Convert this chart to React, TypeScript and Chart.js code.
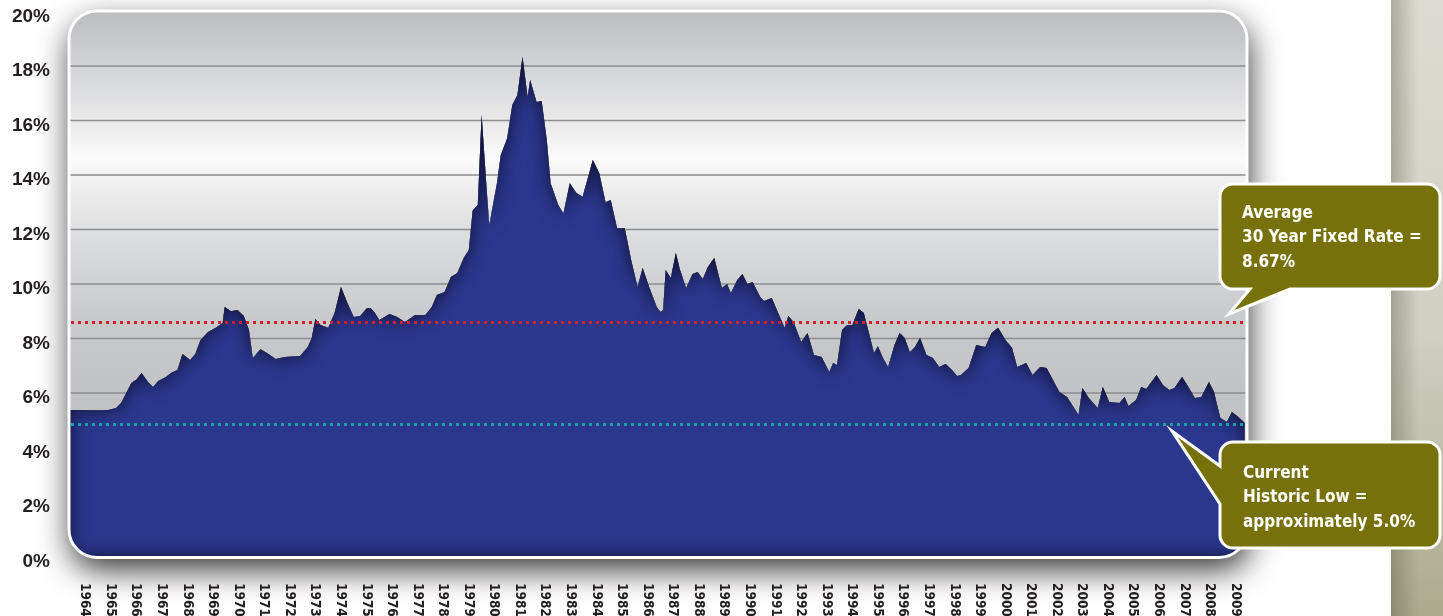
import { useEffect, useRef } from 'react';
import { Chart, registerables } from 'chart.js';

Chart.register(...registerables);

// ---------- data ----------
const yearPositions = [
  1964.0, 1964.5, 1965.0, 1965.5, 1965.8, 1966.0, 1966.2, 1966.4, 1966.6, 1966.8,
  1967.05, 1967.25, 1967.45, 1967.75, 1967.95, 1968.2, 1968.4, 1968.7, 1968.9, 1969.1,
  1969.4, 1969.7, 1969.97, 1970.05, 1970.3, 1970.55, 1970.8, 1971.0, 1971.15, 1971.45,
  1971.7, 1972.05, 1972.4, 1973.0, 1973.3, 1973.45, 1973.6, 1973.8, 1974.1, 1974.35,
  1974.6, 1974.85, 1975.1, 1975.35, 1975.6, 1975.75, 1975.9, 1976.1, 1976.5, 1976.8,
  1977.1, 1977.5, 1977.9, 1978.15, 1978.35, 1978.65, 1978.9, 1979.15, 1979.4, 1979.6,
  1979.75, 1979.95, 1980.1, 1980.3, 1980.4, 1980.7, 1980.85, 1981.1, 1981.3, 1981.5,
  1981.7, 1981.9, 1982.0, 1982.25, 1982.45, 1982.65, 1982.8, 1983.1, 1983.3, 1983.55,
  1983.8, 1984.05, 1984.45, 1984.7, 1984.95, 1985.15, 1985.4, 1985.7, 1985.95, 1986.2,
  1986.4, 1986.65, 1986.95, 1987.1, 1987.2, 1987.3, 1987.5, 1987.7, 1987.85, 1988.1,
  1988.35, 1988.55, 1988.75, 1988.95, 1989.2, 1989.5, 1989.7, 1989.85, 1990.1, 1990.3,
  1990.5, 1990.7, 1991.0, 1991.15, 1991.45, 1991.65, 1991.95, 1992.1, 1992.3, 1992.6,
  1992.85, 1993.1, 1993.4, 1993.7, 1993.85, 1994.0, 1994.2, 1994.4, 1994.6, 1994.85,
  1995.05, 1995.25, 1995.45, 1995.6, 1995.8, 1996.0, 1996.25, 1996.45, 1996.65, 1996.85,
  1997.05, 1997.25, 1997.5, 1997.75, 1998.0, 1998.25, 1998.5, 1998.7, 1998.85, 1999.15,
  1999.45, 1999.8, 2000.05, 2000.3, 2000.6, 2000.85, 2001.05, 2001.4, 2001.65, 2001.95,
  2002.2, 2002.7, 2003.0, 2003.45, 2003.6, 2003.85, 2004.2, 2004.4, 2004.65, 2005.05,
  2005.25, 2005.4, 2005.7, 2005.9, 2006.1, 2006.5, 2006.75, 2007.0, 2007.2, 2007.5,
  2007.7, 2008.0, 2008.25, 2008.55, 2008.75, 2008.85, 2009.0, 2009.25, 2009.45, 2009.7,
  2009.95,
];

const rates = [
  5.38, 5.38, 5.37, 5.38, 5.45, 5.63, 6.0, 6.37, 6.5, 6.73,
  6.4, 6.22, 6.44, 6.59, 6.73, 6.84, 7.43, 7.21, 7.43, 7.94,
  8.24, 8.39, 8.57, 9.16, 9.0, 9.05, 8.83, 8.31, 7.28, 7.61,
  7.47, 7.25, 7.32, 7.36, 7.69, 8.0, 8.72, 8.5, 8.39, 8.94,
  9.89, 9.3, 8.79, 8.83, 9.1, 9.12, 8.97, 8.68, 8.9, 8.79,
  8.61, 8.86, 8.86, 9.16, 9.6, 9.71, 10.26, 10.4, 10.95, 11.25,
  12.7, 12.9, 16.2, 13.45, 12.17, 13.7, 14.73, 15.35, 16.57, 16.94,
  18.33, 16.86, 17.49, 16.68, 16.72, 15.28, 13.7, 12.9, 12.6, 13.7,
  13.35, 13.2, 14.55, 14.07, 13.0, 13.08, 12.05, 12.05, 10.88, 9.9,
  10.59, 9.9, 9.16, 8.97, 9.05, 10.51, 10.22, 11.14, 10.55, 9.85,
  10.37, 10.44, 10.18, 10.62, 10.95, 9.85, 10.0, 9.67, 10.15, 10.37,
  10.0, 10.07, 9.52, 9.38, 9.49, 9.05, 8.39, 8.83, 8.61, 7.87,
  8.2, 7.39, 7.32, 6.77, 7.1, 7.03, 8.31, 8.5, 8.5, 9.08,
  8.94, 8.2, 7.47, 7.72, 7.28, 6.95, 7.76, 8.2, 8.02, 7.5,
  7.69, 8.02, 7.39, 7.28, 6.95, 7.06, 6.84, 6.62, 6.66, 6.92,
  7.76, 7.69, 8.2, 8.39, 7.94, 7.65, 6.95, 7.1, 6.66, 6.95,
  6.92, 6.04, 5.85, 5.19, 6.18, 5.82, 5.45, 6.22, 5.67, 5.63,
  5.85, 5.52, 5.74, 6.22, 6.15, 6.66, 6.29, 6.11, 6.18, 6.59,
  6.29, 5.82, 5.85, 6.4, 6.04, 5.63, 5.08, 4.94, 5.3, 5.12,
  4.9,
];

const yearLabels = [
  '1964', '1965', '1966', '1967', '1968', '1969', '1970', '1971', '1972', '1973',
  '1974', '1975', '1976', '1977', '1978', '1979', '1980', '1981', '1982', '1983',
  '1984', '1985', '1986', '1987', '1988', '1989', '1990', '1991', '1992', '1993',
  '1994', '1995', '1996', '1997', '1998', '1999', '2000', '2001', '2002', '2003',
  '2004', '2005', '2006', '2007', '2008', '2009',
];

const yTicks = [0, 2, 4, 6, 8, 10, 12, 14, 16, 18, 20];
const yTickLabels = ['0%', '2%', '4%', '6%', '8%', '10%', '12%', '14%', '16%', '18%', '20%'];

const averageLineLevel = 8.6;
const lowLineLevel = 4.88;

const averageCallout = ['Average', '30 Year Fixed Rate =', '8.67%'];
const lowCallout = ['Current', 'Historic Low =', 'approximately 5.0%'];

// ---------- layout ----------
const W = 1443;
const H = 616;
const PLOT = { left: 70, right: 1246, top: 11.5, bottom: 556.5 };
const FRAME = { x: 69, y: 11, w: 1178, h: 546.5, r: 28 };

function roundRectPath(ctx: CanvasRenderingContext2D, x: number, y: number, w: number, h: number, r: number) {
  ctx.beginPath();
  ctx.moveTo(x + r, y);
  ctx.arcTo(x + w, y, x + w, y + h, r);
  ctx.arcTo(x + w, y + h, x, y + h, r);
  ctx.arcTo(x, y + h, x, y, r);
  ctx.arcTo(x, y, x + w, y, r);
  ctx.closePath();
}

function calloutBottomTail(ctx: CanvasRenderingContext2D) {
  const x = 1220, y = 184, w = 220, h = 105, r = 13;
  const b = y + h;
  ctx.beginPath();
  ctx.moveTo(x + r, y);
  ctx.arcTo(x + w, y, x + w, b, r);
  ctx.arcTo(x + w, b, x, b, r);
  ctx.lineTo(1290, b);
  ctx.lineTo(1229, 314);
  ctx.lineTo(1250, b);
  ctx.arcTo(x, b, x, y, r);
  ctx.arcTo(x, y, x + w, y, r);
  ctx.closePath();
}

function calloutLeftTail(ctx: CanvasRenderingContext2D) {
  const x = 1220, y = 442, w = 220, h = 106, r = 13;
  const b = y + h;
  ctx.beginPath();
  ctx.moveTo(x + r, y);
  ctx.arcTo(x + w, y, x + w, b, r);
  ctx.arcTo(x + w, b, x, b, r);
  ctx.arcTo(x, b, x, y, r);
  ctx.lineTo(x, 504);
  ctx.lineTo(1172, 431);
  ctx.lineTo(x, 466);
  ctx.arcTo(x, y, x + w, y, r);
  ctx.closePath();
}

const CALLOUT_FONT = "bold 17px 'Liberation Sans Narrow', 'DejaVu Sans Condensed', 'Arial Narrow', sans-serif";

const decorPlugin = {
  id: 'decor',
  beforeDraw(chart: any) {
    const ctx: CanvasRenderingContext2D = chart.ctx;
    const yScale = chart.scales.y;
    ctx.save();
    ctx.fillStyle = '#ffffff';
    ctx.fillRect(0, 0, W, H);

    // right side strip
    const sg = ctx.createLinearGradient(0, 0, 0, H);
    sg.addColorStop(0, '#dcdcd2');
    sg.addColorStop(0.55, '#cfcfc2');
    sg.addColorStop(1, '#acaa8c');
    ctx.fillStyle = sg;
    ctx.fillRect(1391, 0, W - 1391, H);
    const sh = ctx.createLinearGradient(1391, 0, 1418, 0);
    sh.addColorStop(0, 'rgba(80,80,60,0.35)');
    sh.addColorStop(1, 'rgba(80,80,60,0)');
    ctx.fillStyle = sh;
    ctx.fillRect(1391, 0, 27, H);

    // frame shadow
    ctx.save();
    ctx.shadowColor = 'rgba(0,0,0,0.8)';
    ctx.shadowBlur = 32;
    ctx.shadowOffsetX = 2;
    ctx.shadowOffsetY = 12;
    roundRectPath(ctx, FRAME.x, FRAME.y, FRAME.w, FRAME.h, FRAME.r);
    ctx.fillStyle = '#c0c0c2';
    ctx.fill();
    ctx.restore();

    // plot background gradient
    const bg = ctx.createLinearGradient(0, PLOT.top, 0, PLOT.bottom);
    bg.addColorStop(0, '#bbbcbe');
    bg.addColorStop(0.1, '#d3d4d6');
    bg.addColorStop(0.2, '#e9e9ea');
    bg.addColorStop(0.27, '#fbfbfb');
    bg.addColorStop(0.33, '#ececed');
    bg.addColorStop(0.43, '#d9dadb');
    bg.addColorStop(0.56, '#c9cacc');
    bg.addColorStop(0.72, '#c1c2c4');
    bg.addColorStop(1, '#bfc0c2');
    roundRectPath(ctx, FRAME.x, FRAME.y, FRAME.w, FRAME.h, FRAME.r);
    ctx.fillStyle = bg;
    ctx.fill();

    // gridlines
    ctx.strokeStyle = '#8c8d8f';
    ctx.lineWidth = 1.6;
    yTicks.forEach((v) => {
      if (v === 0 || v === 20) return;
      const py = yScale.getPixelForValue(v);
      ctx.beginPath();
      ctx.moveTo(PLOT.left, py);
      ctx.lineTo(PLOT.right, py);
      ctx.stroke();
    });
    ctx.restore();
  },
  beforeDatasetsDraw(chart: any) {
    const ctx: CanvasRenderingContext2D = chart.ctx;
    ctx.save();
    roundRectPath(ctx, FRAME.x, FRAME.y, FRAME.w, FRAME.h, FRAME.r);
    ctx.clip();
  },
  afterDatasetsDraw(chart: any) {
    const ctx: CanvasRenderingContext2D = chart.ctx;
    const meta = chart.getDatasetMeta(0);
    const pts = meta.data.map((p: any) => ({ x: p.x, y: p.y }));
    const base = chart.scales.y.getPixelForValue(0);
    const areaPath = () => {
      ctx.moveTo(pts[0].x, base);
      pts.forEach((p: any) => ctx.lineTo(p.x, p.y));
      ctx.lineTo(pts[pts.length - 1].x, base);
      ctx.closePath();
    };
    // inner shadow on the area
    ctx.save();
    ctx.beginPath();
    areaPath();
    ctx.clip();
    ctx.beginPath();
    ctx.rect(-2000, -2000, 6000, 6000);
    areaPath();
    ctx.shadowColor = 'rgba(14,16,50,0.95)';
    ctx.shadowBlur = 18;
    ctx.fillStyle = '#000';
    ctx.fill('evenodd');
    ctx.restore();
    ctx.restore(); // frame clip

    // white frame border
    ctx.save();
    roundRectPath(ctx, FRAME.x, FRAME.y, FRAME.w, FRAME.h, FRAME.r);
    ctx.strokeStyle = '#ffffff';
    ctx.lineWidth = 3;
    ctx.stroke();
    ctx.restore();

    // dotted reference lines
    const yScale = chart.scales.y;
    const drawDotted = (v: number, color: string) => {
      const py = Math.round(yScale.getPixelForValue(v)) + 0.5;
      ctx.save();
      ctx.strokeStyle = color;
      ctx.lineWidth = 3;
      ctx.setLineDash([3, 4]);
      ctx.beginPath();
      ctx.moveTo(PLOT.left + 1, py);
      ctx.lineTo(PLOT.right, py);
      ctx.stroke();
      ctx.restore();
    };
    drawDotted(averageLineLevel, '#d11f2c');
    drawDotted(lowLineLevel, '#13a3a4');
  },
  afterDraw(chart: any) {
    const ctx: CanvasRenderingContext2D = chart.ctx;
    const xScale = chart.scales.x;
    const yScale = chart.scales.y;
    ctx.save();
    // y labels
    ctx.fillStyle = '#231f20';
    ctx.font = "bold 19px 'Liberation Sans', Arial, sans-serif";
    ctx.textAlign = 'right';
    ctx.textBaseline = 'middle';
    yTicks.forEach((v, i) => {
      ctx.fillText(yTickLabels[i], 50, yScale.getPixelForValue(v) + 5);
    });
    // x labels (rotated clockwise)
    ctx.font = "bold 13.5px 'DejaVu Sans Condensed', 'Liberation Sans Narrow', sans-serif";
    ctx.textAlign = 'left';
    ctx.textBaseline = 'middle';
    yearLabels.forEach((lab) => {
      const px = xScale.getPixelForValue(Number(lab) + 0.5) + 2;
      ctx.save();
      ctx.translate(px, 583);
      ctx.rotate(Math.PI / 2);
      ctx.fillText(lab, 0, 0);
      ctx.restore();
    });

    // callouts
    const drawBox = (pathFn: (c: CanvasRenderingContext2D) => void, lines: string[], tx: number, ty: number) => {
      ctx.save();
      pathFn(ctx);
      ctx.fillStyle = '#76710a';
      ctx.fill();
      ctx.strokeStyle = '#ffffff';
      ctx.lineWidth = 3;
      ctx.lineJoin = 'miter';
      ctx.stroke();
      ctx.fillStyle = '#ffffff';
      ctx.font = CALLOUT_FONT;
      ctx.textAlign = 'left';
      ctx.textBaseline = 'alphabetic';
      lines.forEach((l, i) => ctx.fillText(l, tx, ty + i * 24.3));
      ctx.restore();
    };
    drawBox(calloutBottomTail, averageCallout, 1242, 218);
    drawBox(calloutLeftTail, lowCallout, 1243, 478);
    ctx.restore();
  },
};

export default function App() {
  const canvasRef = useRef<HTMLCanvasElement | null>(null);

  useEffect(() => {
    document.body.style.margin = '0';
    const canvas = canvasRef.current;
    if (!canvas) return;
    const chart = new Chart(canvas, {
      type: 'line',
      data: {
        datasets: [
          {
            data: yearPositions.map((x, i) => ({ x, y: rates[i] })),
            fill: 'origin',
            backgroundColor: '#2b378d',
            borderWidth: 0,
            borderColor: 'rgba(0,0,0,0)',
            pointRadius: 0,
            tension: 0,
          },
        ],
      },
      options: {
        animation: false,
        responsive: false,
        devicePixelRatio: 1,
        events: [],
        layout: {
          padding: { left: PLOT.left, right: W - PLOT.right, top: PLOT.top, bottom: H - PLOT.bottom },
        },
        scales: {
          x: { type: 'linear', min: 1964, max: 2010, display: false },
          y: { type: 'linear', min: 0, max: 20, display: false },
        },
        plugins: {
          legend: { display: false },
          tooltip: { enabled: false },
        },
      },
      plugins: [decorPlugin],
    } as any);
    return () => chart.destroy();
  }, []);

  return (
    <div style={{ width: W, height: H, position: 'relative' }}>
      <canvas ref={canvasRef} width={W} height={H} style={{ display: 'block', width: W, height: H }} />
    </div>
  );
}
